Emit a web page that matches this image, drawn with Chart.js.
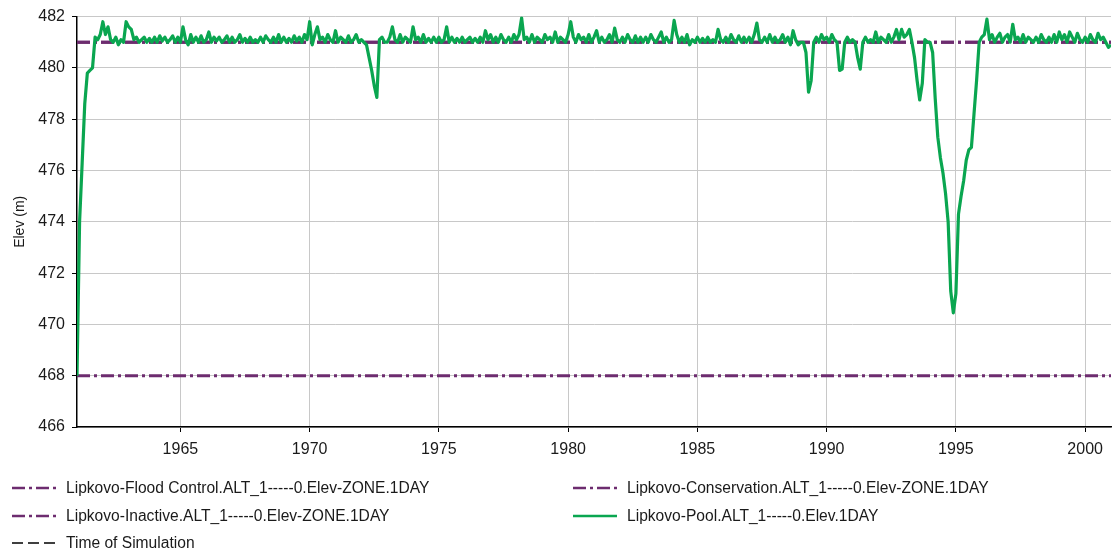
<!DOCTYPE html>
<html>
<head>
<meta charset="utf-8">
<script src="https://cdn.jsdelivr.net/npm/chart.js@4/dist/chart.umd.min.js"></script>
<style>
  html, body { margin: 0; padding: 0; background: #fff; }
  #wrap { position: relative; width: 1112px; height: 554px; overflow: hidden; font-family: "Liberation Sans", Arial, sans-serif; }
  #chart { position: absolute; left: 0; top: 0; }
  #legend { position: absolute; left: 0; top: 0; width: 1112px; height: 554px; pointer-events: none; }
  .item { position: absolute; height: 20px; display: flex; align-items: center; font-size: 15.6px; color: #1a1a1a; white-space: nowrap; }
  .item svg { flex: none; margin-right: 10px; }
</style>
</head>
<body>
<div id="wrap">
  <canvas id="chart" width="1112" height="460"></canvas>
  <div id="legend"></div>
</div>
<script>
// ---- data ----
const xTickYears = [1965, 1970, 1975, 1980, 1985, 1990, 1995, 2000];
const yTickValues = [466, 468, 470, 472, 474, 476, 478, 480, 482];

const zoneYears = [1961, 2001];
const floodControlElev = [481.0, 481.0];
const conservationElev = [481.0, 481.0];
const inactiveElev = [468.0, 468.0];

const poolStartYear = 1961;
const poolStepYears = 0.1;
const poolElev = [
  468.0, 474.0, 476.3, 478.6, 479.8, 479.9, 480.0, 481.2, 481.1, 481.3,   // 1961
  481.8, 481.3, 481.6, 481.1, 481.0, 481.2, 480.9, 481.1, 481.0, 481.8,   // 1962
  481.6, 481.5, 481.1, 481.2, 481.0, 481.1, 481.2, 481.0, 481.15, 481.0,  // 1963
  481.2, 481.0, 481.25, 481.05, 481.2, 481.0, 481.1, 481.25, 481.0, 481.2,// 1964
  481.0, 481.6, 481.1, 480.9, 481.3, 481.0, 481.2, 481.0, 481.25, 481.0,  // 1965
  481.1, 481.4, 481.0, 481.2, 481.05, 481.2, 481.0, 481.1, 481.25, 481.0, // 1966
  481.2, 481.0, 481.1, 481.3, 481.0, 481.15, 481.0, 481.2, 481.0, 481.1,  // 1967
  481.0, 481.2, 481.0, 481.25, 481.1, 481.0, 481.2, 481.0, 481.3, 481.0,  // 1968
  481.2, 481.0, 481.15, 481.0, 481.25, 481.05, 481.2, 481.0, 481.3, 481.1,// 1969
  481.8, 480.9, 481.3, 481.6, 481.1, 481.2, 481.0, 481.3, 481.1, 481.0,   // 1970
  481.45, 481.0, 481.2, 481.1, 481.0, 481.25, 481.0, 481.1, 481.3, 481.0, // 1971
  481.1, 481.0, 480.9, 480.4, 479.9, 479.3, 478.85, 481.1, 481.2, 481.0,  // 1972
  481.0, 481.2, 481.6, 481.1, 481.0, 481.3, 481.0, 481.2, 481.1, 481.0,   // 1973
  481.6, 481.1, 481.2, 481.0, 481.3, 481.0, 481.15, 481.0, 481.2, 481.0,  // 1974
  481.2, 481.0, 481.1, 481.6, 481.0, 481.2, 481.0, 481.15, 481.0, 481.2,  // 1975
  481.0, 481.1, 481.2, 481.0, 481.15, 481.0, 481.2, 481.0, 481.45, 481.1, // 1976
  481.3, 481.0, 481.2, 481.0, 481.3, 481.1, 481.0, 481.2, 481.0, 481.3,   // 1977
  481.1, 481.3, 481.95, 481.1, 481.2, 481.0, 481.3, 481.0, 481.2, 481.1,  // 1978
  481.0, 481.3, 481.1, 481.2, 481.0, 481.4, 481.0, 481.2, 481.1, 481.0,   // 1979
  481.3, 481.8, 481.2, 481.0, 481.3, 481.1, 481.2, 481.0, 481.3, 481.0,   // 1980
  481.2, 481.45, 481.0, 481.2, 481.0, 481.1, 481.3, 481.0, 481.55, 481.1, // 1981
  481.0, 481.2, 481.0, 481.3, 481.1, 481.0, 481.25, 481.0, 481.2, 481.0,  // 1982
  481.2, 481.0, 481.3, 481.1, 481.0, 481.2, 481.4, 481.0, 481.2, 481.0,   // 1983
  481.1, 481.85, 481.3, 481.0, 481.2, 481.0, 481.3, 480.9, 481.1, 481.0,  // 1984
  481.2, 481.0, 481.15, 481.0, 481.2, 481.0, 481.1, 481.0, 481.5, 481.1,  // 1985
  481.0, 481.2, 481.0, 481.3, 481.1, 481.0, 481.25, 481.0, 481.2, 481.0,  // 1986
  481.2, 481.0, 481.3, 481.75, 481.1, 481.0, 481.2, 481.0, 481.3, 481.0,  // 1987
  481.2, 481.0, 481.1, 481.3, 481.0, 481.2, 480.9, 481.45, 481.1, 480.9,  // 1988
  481.0, 481.0, 480.6, 479.05, 479.5, 481.0, 481.2, 481.0, 481.3, 481.1,  // 1989
  481.2, 481.0, 481.3, 481.1, 481.0, 479.9, 479.95, 481.0, 481.2, 481.0,  // 1990
  481.1, 481.0, 480.4, 479.95, 481.0, 481.2, 481.0, 481.1, 481.0, 481.4,  // 1991
  481.0, 481.2, 481.1, 481.0, 481.3, 481.0, 481.2, 481.5, 481.1, 481.5,   // 1992
  481.2, 481.3, 481.5, 481.0, 480.4, 479.5, 478.75, 479.4, 481.1, 481.0,  // 1993
  481.0, 480.6, 478.8, 477.3, 476.5, 475.9, 475.1, 474.0, 471.3, 470.45,  // 1994
  471.2, 474.3, 475.0, 475.6, 476.4, 476.8, 476.9, 478.2, 479.5, 481.0,   // 1995
  481.2, 481.3, 481.9, 481.1, 481.3, 481.0, 481.2, 481.35, 481.0, 481.2,  // 1996
  481.3, 481.0, 481.7, 481.1, 481.2, 481.0, 481.3, 481.0, 481.2, 481.1,   // 1997
  481.0, 481.2, 481.0, 481.3, 481.1, 481.0, 481.2, 481.0, 481.3, 481.0,   // 1998
  481.4, 481.1, 481.3, 481.0, 481.4, 481.2, 481.0, 481.35, 481.1, 481.0,  // 1999
  481.2, 481.0, 481.3, 481.1, 481.0, 481.35, 481.1, 481.2, 481.0, 480.8,  // 2000
  480.9                                                                   // 2001.0
];
const timeOfSimulation = [];

const seriesNames = [
  'Lipkovo-Flood Control.ALT_1-----0.Elev-ZONE.1DAY',
  'Lipkovo-Conservation.ALT_1-----0.Elev-ZONE.1DAY',
  'Lipkovo-Inactive.ALT_1-----0.Elev-ZONE.1DAY',
  'Lipkovo-Pool.ALT_1-----0.Elev.1DAY',
  'Time of Simulation'
];

// ---- styles ----
const PURPLE = '#6d2c6f';
const GREEN = '#0aa650';
const ZONE_DASH = [13, 4, 3, 4];
const FONT = '"Liberation Sans", Arial, sans-serif';

const toPts = (xs, ys) => ys.map((y, i) => ({ x: xs[i], y }));
const poolPts = poolElev.map((y, i) => ({ x: +(poolStartYear + i * poolStepYears).toFixed(2), y }));

const datasets = [
  { label: seriesNames[0], data: toPts(zoneYears, floodControlElev), borderColor: PURPLE, borderWidth: 3, borderDash: ZONE_DASH, order: 4 },
  { label: seriesNames[1], data: toPts(zoneYears, conservationElev), borderColor: PURPLE, borderWidth: 3, borderDash: ZONE_DASH, order: 3 },
  { label: seriesNames[2], data: toPts(zoneYears, inactiveElev), borderColor: PURPLE, borderWidth: 3, borderDash: ZONE_DASH, order: 2 },
  { label: seriesNames[3], data: poolPts, borderColor: GREEN, borderWidth: 3.2, borderDash: [], order: 0 },
  { label: seriesNames[4], data: timeOfSimulation, borderColor: '#000', borderWidth: 1.5, borderDash: [11, 5], order: 1 }
];
datasets.forEach(d => { d.pointRadius = 0; d.fill = false; d.tension = 0; d.borderJoinStyle = 'round'; });

new Chart(document.getElementById('chart'), {
  type: 'line',
  data: { datasets },
  options: {
    responsive: false,
    animation: false,
    devicePixelRatio: 1,
    layout: { padding: { top: 10, right: 1, left: 0, bottom: 0 } },
    plugins: { legend: { display: false }, tooltip: { enabled: false } },
    scales: {
      x: {
        type: 'linear', min: 1961, max: 2001,
        afterBuildTicks: a => { a.ticks = xTickYears.map(v => ({ value: v })); },
        afterFit: s => { s.height = 33; },
        ticks: { callback: v => String(v), font: { family: FONT, size: 16 }, color: '#1a1a1a', padding: 8, maxRotation: 0 },
        grid: { color: '#c8c8c8', lineWidth: 1, tickColor: '#000', tickLength: 5 },
        border: { color: '#000', width: 1.5 }
      },
      y: {
        min: 466, max: 482,
        afterBuildTicks: a => { a.ticks = yTickValues.map(v => ({ value: v })); },
        afterFit: s => { s.width = 77; },
        ticks: { callback: v => String(v), font: { family: FONT, size: 16 }, color: '#1a1a1a', padding: 7 },
        grid: { color: '#c8c8c8', lineWidth: 1, tickColor: '#000', tickLength: 5 },
        border: { color: '#000', width: 1.5 },
        title: { display: true, text: 'Elev (m)', font: { family: FONT, size: 14 }, color: '#1a1a1a', padding: { top: 12, bottom: 0 } }
      }
    }
  }
});

// ---- HTML legend (two columns, like the reference) ----
const legendSlots = [
  { ds: 0, left: 12, row: 0 }, { ds: 1, left: 573, row: 0 },
  { ds: 2, left: 12, row: 1 }, { ds: 3, left: 573, row: 1 },
  { ds: 4, left: 12, row: 2 }
];
const legend = document.getElementById('legend');
legendSlots.forEach(s => {
  const d = datasets[s.ds];
  const el = document.createElement('div');
  el.className = 'item';
  el.style.left = s.left + 'px';
  el.style.top = (478 + s.row * 27.5) + 'px';
  const dash = d.borderDash && d.borderDash.length ? d.borderDash.join(' ') : 'none';
  el.innerHTML = '<svg width="44" height="10"><line x1="0" y1="5" x2="44" y2="5" stroke="' + d.borderColor +
    '" stroke-width="' + (s.ds === 4 ? 1.5 : 2.5) + '" stroke-dasharray="' + dash + '"/></svg>';
  const t = document.createElement('span');
  t.textContent = d.label;
  el.appendChild(t);
  legend.appendChild(el);
});
</script>
</body>
</html>
